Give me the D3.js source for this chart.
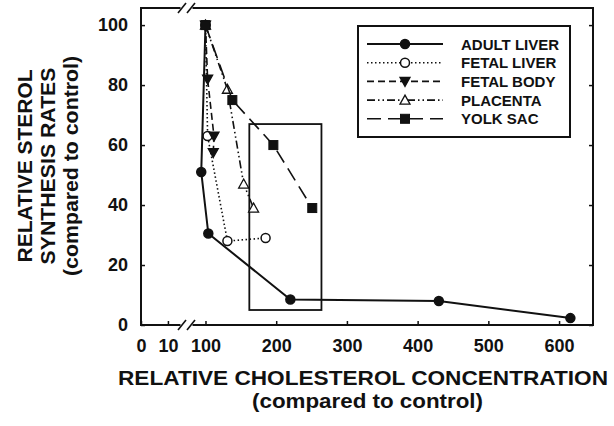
<!DOCTYPE html>
<meta charset="utf-8">
<style>
    body { margin: 0; background: #fff; }
    text { font-family: "Liberation Sans", Arial, sans-serif; font-weight: bold; fill: #111; }
    .tick line { stroke: #111; stroke-width: 1.5px; }
</style>
<body>
<svg width="614" height="426"></svg>
<script src="https://cdn.jsdelivr.net/npm/d3@7"></script>
<script>
    // values
    var adultX = [100, 94, 104, 220, 430, 616]
    var adultY = [100, 51, 30.5, 8.5, 8, 2.3]
    var fetalLiverX = [100, 103, 131, 185]
    var fetalLiverY = [100, 63, 28, 29]
    var fetalBodyX = [100, 103, 112, 111]
    var fetalBodyY = [100, 82, 63, 57.5]
    var placentaX = [100, 131, 154, 168]
    var placentaY = [100, 78.6, 47, 39]
    var yolkX = [100, 138, 196, 251]
    var yolkY = [100, 75, 60, 39]

    var seriesNames = ["ADULT LIVER", "FETAL LIVER", "FETAL BODY", "PLACENTA", "YOLK SAC"]
    var xTicks = [0, 10, 100, 200, 300, 400, 500, 600]
    var yTicks = [0, 20, 40, 60, 80, 100]
    var boxX = [162, 264]   // the highlight box, in data units
    var boxY = [5, 67]

    var series = [
        {name: seriesNames[0], xs: adultX, ys: adultY, dash: null, mark: "circle", fill: true},
        {name: seriesNames[1], xs: fetalLiverX, ys: fetalLiverY, dash: "1.5,2.5", mark: "circle", fill: false},
        {name: seriesNames[2], xs: fetalBodyX, ys: fetalBodyY, dash: "7,4", mark: "down", fill: true},
        {name: seriesNames[3], xs: placentaX, ys: placentaY, dash: "8,3,1.5,3,1.5,3", mark: "up", fill: false},
        {name: seriesNames[4], xs: yolkX, ys: yolkY, dash: "14,7", mark: "square", fill: true}
    ]

    var svg = d3.select("svg")
    // (window.top is read-only, so plain "top" can't be used here)
    var pLeft = 141, pRight = 593, pTop = 8, pBottom = 325

    // broken x axis: 0-13 squeezed on the left, 88-648 on the rest
    var x = d3.scaleLinear()
        .domain([0, 13, 88, 648])
        .range([pLeft, 176, 197, pRight])
    var y = d3.scaleLinear()
        .domain([0, 105.7])
        .range([pBottom, pTop])

    var gx = svg.append("g")
        .attr("transform", `translate(0,${pBottom})`)
        .call(d3.axisBottom(x).tickValues(xTicks).tickSize(-4).tickPadding(14))
    gx.select(".domain").remove()
    gx.selectAll("text").style("font-size", "18px")

    var gy = svg.append("g")
        .attr("transform", `translate(${pLeft},0)`)
        .call(d3.axisLeft(y).tickValues(yTicks).tickSize(-4).tickPadding(13))
    gy.select(".domain").remove()
    gy.selectAll("text").style("font-size", "18px")

    var gr = svg.append("g")
        .attr("transform", `translate(${pRight},0)`)
        .call(d3.axisRight(y).tickValues(yTicks).tickSize(-4).tickFormat(""))
    gr.select(".domain").remove()

    // frame
    svg.append("rect")
        .attr("x", pLeft).attr("y", pTop)
        .attr("width", pRight - pLeft).attr("height", pBottom - pTop)
        .attr("fill", "none").attr("stroke", "#111").attr("stroke-width", 2)

    // break marks on bottom and top edges
    var bx = (x(13) + x(88)) / 2
    ;[pBottom, pTop].forEach(function(yy) {
        svg.append("rect")
            .attr("x", bx - 6).attr("y", yy - 2)
            .attr("width", 12).attr("height", 4)
            .attr("fill", "#fff")
        ;[-4.5, 4.5].forEach(function(o) {
            svg.append("line")
                .attr("x1", bx + o - 4).attr("y1", yy + 5)
                .attr("x2", bx + o + 4).attr("y2", yy - 5)
                .attr("stroke", "#111").attr("stroke-width", 1.6)
        })
    })

    // highlight box
    svg.append("rect")
        .attr("x", x(boxX[0])).attr("y", y(boxY[1]))
        .attr("width", x(boxX[1]) - x(boxX[0]))
        .attr("height", y(boxY[0]) - y(boxY[1]))
        .attr("fill", "none").attr("stroke", "#111").attr("stroke-width", 1.8)

    var line = d3.line()

    function marker(g, kind, filled, cx, cy) {
        var fill = filled ? "#111" : "#fff"
        if (kind == "circle") {
            g.append("circle").attr("cx", cx).attr("cy", cy).attr("r", 4.5)
                .attr("fill", fill).attr("stroke", "#111").attr("stroke-width", 1.5)
        } else if (kind == "square") {
            g.append("rect").attr("x", cx - 4.5).attr("y", cy - 4.5).attr("width", 9).attr("height", 9)
                .attr("fill", fill).attr("stroke", "#111").attr("stroke-width", 1)
        } else {
            var s = kind == "up" ? 1 : -1
            g.append("path")
                .attr("d", `M${cx},${cy - 5 * s}L${cx + 5},${cy + 4 * s}L${cx - 5},${cy + 4 * s}Z`)
                .attr("fill", fill).attr("stroke", "#111").attr("stroke-width", 1.3)
        }
    }

    series.forEach(function(s) {
        var pts = s.xs.map(function(v, i) { return [x(v), y(s.ys[i])] })
        svg.append("path")
            .attr("d", line(pts))
            .attr("fill", "none")
            .attr("stroke", "#111")
            .attr("stroke-width", s.dash ? 1.6 : 2)
            .attr("stroke-dasharray", s.dash)
        var g = svg.append("g")
        pts.forEach(function(p) { marker(g, s.mark, s.fill, p[0], p[1]) })
    })

    // legend
    var leg = svg.append("g")
    leg.append("rect")
        .attr("x", 358).attr("y", 26).attr("width", 212).attr("height", 111)
        .attr("fill", "#fff").attr("stroke", "#111").attr("stroke-width", 2)
    series.forEach(function(s, i) {
        var ly = 44 + i * 18.7
        leg.append("line")
            .attr("x1", 367).attr("x2", 443).attr("y1", ly).attr("y2", ly)
            .attr("stroke", "#111").attr("stroke-width", s.dash ? 1.6 : 2)
            .attr("stroke-dasharray", s.dash)
        marker(leg, s.mark, s.fill, 405, ly)
        leg.append("text")
            .attr("x", 461).attr("y", ly + 5.5)
            .style("font-size", "15px")
            .text(s.name)
    })

    // axis titles
    svg.append("text")
        .attr("x", 118).attr("y", 385)
        .attr("textLength", 490).attr("lengthAdjust", "spacingAndGlyphs")
        .style("font-size", "20px")
        .text("RELATIVE CHOLESTEROL CONCENTRATION")
    svg.append("text")
        .attr("x", 252).attr("y", 408)
        .attr("textLength", 231).attr("lengthAdjust", "spacingAndGlyphs")
        .style("font-size", "20px")
        .text("(compared to control)")

    var ytitles = [
        {t: "RELATIVE STEROL", bx: 32, len: 193},
        {t: "SYNTHESIS RATES", bx: 55, len: 197},
        {t: "(compared to control)", bx: 78, len: 220}
    ]
    ytitles.forEach(function(d) {
        svg.append("text")
            .attr("transform", `translate(${d.bx},166) rotate(-90)`)
            .attr("text-anchor", "middle")
            .attr("textLength", d.len).attr("lengthAdjust", "spacingAndGlyphs")
            .style("font-size", "20px")
            .text(d.t)
    })
</script>
</body>
